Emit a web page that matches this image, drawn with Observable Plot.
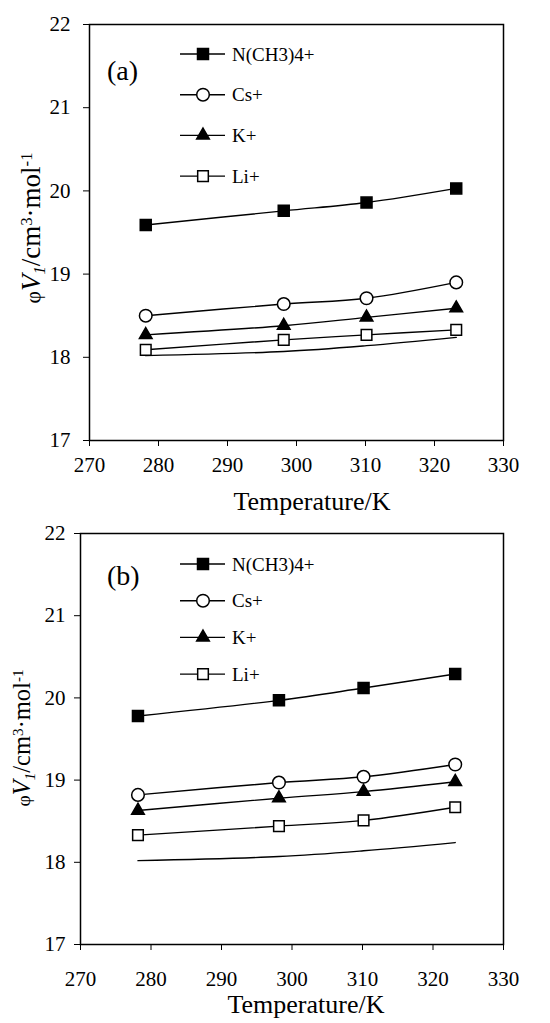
<!DOCTYPE html>
<html><head><meta charset="utf-8">
<script src="https://cdn.jsdelivr.net/npm/d3@7"></script>
<script src="https://cdn.jsdelivr.net/npm/@observablehq/plot@0.6"></script>
<style>body{margin:0;background:#fff} svg{display:block}</style>
</head><body><div id="chart"></div>
<script>
// ---- data ----
const temperatures = [278.15, 298.15, 310.15, 323.15];
const seriesNames = ["N(CH3)4+", "Cs+", "K+", "Li+"];
// panel (a)
const a_NMe4 = [19.59, 19.76, 19.86, 20.03];
const a_Cs   = [18.50, 18.64, 18.71, 18.90];
const a_K    = [18.27, 18.38, 18.48, 18.59];
const a_Li   = [18.09, 18.21, 18.27, 18.33];
// panel (b)
const b_NMe4 = [19.78, 19.97, 20.12, 20.29];
const b_Cs   = [18.82, 18.97, 19.04, 19.19];
const b_K    = [18.63, 18.78, 18.86, 18.98];
const b_Li   = [18.33, 18.44, 18.51, 18.67];
// unmarked reference line (both panels)
const water  = [18.02, 18.07, 18.14, 18.24];
const xTicks = [270, 280, 290, 300, 310, 320, 330];
const yTicks = [17, 18, 19, 20, 21, 22];
const panelLabels = ["(a)", "(b)"];
const xTitle = "Temperature/K";

// marker styles per series
const markerStyle = [
  {symbol: "square",   fill: "#000", r: 6.2},
  {symbol: "circle",   fill: "#fff", r: 6.3},
  {symbol: "triangle", fill: "#000", r: 4.7},
  {symbol: "square",   fill: "#fff", r: 6.0}
];
const d3sym = {square: d3.symbolSquare, circle: d3.symbolCircle, triangle: d3.symbolTriangle};

function makePanel(cfg) {
  const rows = [];
  seriesNames.forEach((s, i) => temperatures.forEach((t, j) => rows.push({series: s, T: t, v: cfg.values[i][j]})));
  const refRows = temperatures.map((t, j) => ({T: t, v: water[j]}));
  const marks = [
    Plot.line(refRows, {x: "T", y: "v", curve: "catmull-rom", stroke: "#000", strokeWidth: 1.4}),
    Plot.line(rows, {x: "T", y: "v", z: "series", curve: "catmull-rom", stroke: "#000", strokeWidth: 1.4})
  ];
  seriesNames.forEach((s, i) => {
    const m = markerStyle[i];
    marks.push(Plot.dot(rows.filter(d => d.series === s), {x: "T", y: "v", symbol: m.symbol, fill: m.fill, stroke: "#000", strokeWidth: 1.5, r: m.r}));
  });
  marks.push(Plot.frame({stroke: "#000", strokeWidth: 1.5}));
  const plot = Plot.plot({
    width: 550, height: cfg.height,
    marginTop: cfg.mt, marginBottom: cfg.mb, marginLeft: cfg.ml, marginRight: 47,
    style: {fontFamily: "'Liberation Serif', 'Times New Roman', serif", fontSize: "21px", color: "#000", background: "#fff"},
    x: {domain: [270, 330], ticks: xTicks, tickSize: 6, tickPadding: cfg.xpad, label: null, tickFormat: d => d},
    y: {domain: [17, 22], ticks: yTicks, tickSize: 6, tickPadding: cfg.ypad, label: null, tickFormat: d => d},
    marks
  });
  const svg = d3.select(plot);
  const ff = "'Liberation Serif', 'Times New Roman', serif";
  // legend
  const lg = svg.append("g").attr("text-anchor", "start");
  seriesNames.forEach((s, i) => {
    const y = cfg.legendY0 + i * cfg.legendDy;
    const m = markerStyle[i];
    lg.append("line").attr("x1", 180).attr("x2", 225).attr("y1", y).attr("y2", y).attr("stroke", "#000").attr("stroke-width", 1.4);
    lg.append("path").attr("d", d3.symbol(d3sym[m.symbol], Math.PI * m.r * m.r)()).attr("transform", `translate(203,${y})`)
      .attr("fill", m.fill).attr("stroke", "#000").attr("stroke-width", 1.5);
    lg.append("text").attr("x", 232).attr("y", y).attr("dy", "0.35em").attr("text-anchor", "start")
      .attr("font-family", ff).attr("font-size", 19).text(s);
  });
  // panel label
  svg.append("text").attr("x", 107).attr("y", cfg.labelY).attr("text-anchor", "start")
    .attr("font-family", ff).attr("font-size", 28).text(cfg.label);
  // x title
  svg.append("text").attr("x", cfg.xTitleX).attr("y", cfg.xTitleY).attr("text-anchor", "middle").attr("font-family", ff).attr("font-size", 26).text(xTitle);
  // y title
  const yt = svg.append("text").attr("transform", `translate(${cfg.yTitleX},${cfg.yTitleY}) rotate(-90)`)
    .attr("text-anchor", "middle").attr("font-family", ff).attr("font-size", cfg.yTitleSize);
  yt.append("tspan").text("φ").attr("font-size", cfg.yTitleSize * 0.8);
  yt.append("tspan").text("V").attr("font-style", "italic");
  yt.append("tspan").text("1").attr("font-style", "italic").attr("font-size", cfg.yTitleSize * 0.62).attr("dy", "0.3em");
  yt.append("tspan").text("/cm").attr("dy", "-0.19em");
  yt.append("tspan").text("3").attr("font-size", cfg.yTitleSize * 0.62).attr("dy", "-0.45em");
  yt.append("tspan").text("·mol").attr("dy", "0.28em");
  yt.append("tspan").text("-1").attr("font-size", cfg.yTitleSize * 0.62).attr("dy", "-0.45em");
  return plot;
}

const chart = document.getElementById("chart");
chart.appendChild(makePanel({
  values: [a_NMe4, a_Cs, a_K, a_Li], label: panelLabels[0],
  height: 520, mt: 24, mb: 80, ml: 89, xpad: 11, ypad: 13,
  legendY0: 54, legendDy: 40.7, labelY: 80,
  xTitleX: 312, xTitleY: 510, yTitleX: 40, yTitleY: 228, yTitleSize: 27
}));
chart.appendChild(makePanel({
  values: [b_NMe4, b_Cs, b_K, b_Li], label: panelLabels[1],
  height: 503, mt: 13, mb: 79, ml: 80, xpad: 21, ypad: 9,
  legendY0: 44, legendDy: 36.7, labelY: 65,
  xTitleX: 306, xTitleY: 493, yTitleX: 30, yTitleY: 218, yTitleSize: 24.5
}));
</script>
</body></html>
